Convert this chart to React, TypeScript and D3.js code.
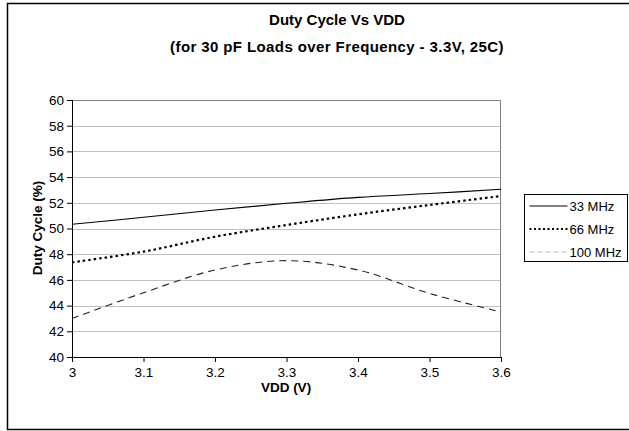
import React, { useRef, useEffect } from "react";
import * as d3 from "d3";

// VDD values (V)
const vdd = [3.0, 3.1, 3.2, 3.3, 3.4, 3.5, 3.6];

// Duty cycle (%) per frequency
const duty33 = [50.33, 50.87, 51.44, 51.96, 52.42, 52.72, 53.05];
const duty66 = [47.37, 48.2, 49.36, 50.27, 51.1, 51.83, 52.53];
const duty100 = [43.0, 45.0, 46.77, 47.5, 46.77, 44.95, 43.5];

const seriesNames = ["33 MHz", "66 MHz", "100 MHz"];
const xTicks = [3, 3.1, 3.2, 3.3, 3.4, 3.5, 3.6];
const yTicks = [40, 42, 44, 46, 48, 50, 52, 54, 56, 58, 60];

const FONT = "'Liberation Sans', Arial, sans-serif";

const App: React.FC = () => {
  const svgRef = useRef<SVGSVGElement>(null);

  useEffect(() => {
    document.body.style.margin = "0";
    if (!svgRef.current) return;
    const svg = d3.select(svgRef.current);
    svg.selectAll("*").remove();

    const width = 629;
    const height = 431;
    const margin = { top: 100, right: 128, bottom: 74, left: 72 };
    const innerWidth = width - margin.left - margin.right;
    const innerHeight = height - margin.top - margin.bottom;

    svg.attr("width", width).attr("height", height).style("display", "block");

    // Outer frame (right edge lies outside the picture)
    svg
      .append("rect")
      .attr("x", 7.5)
      .attr("y", 3.5)
      .attr("width", 660)
      .attr("height", 426)
      .attr("fill", "#fff")
      .attr("stroke", "#000")
      .attr("stroke-width", 1.5);

    // Titles
    const titleX = 337;
    svg
      .append("text")
      .attr("x", titleX)
      .attr("y", 25)
      .attr("text-anchor", "middle")
      .style("font-family", FONT)
      .style("font-weight", "bold")
      .style("font-size", "15px")
      .text("Duty Cycle Vs VDD");
    svg
      .append("text")
      .attr("x", titleX)
      .attr("y", 52)
      .attr("text-anchor", "middle")
      .style("font-family", FONT)
      .style("font-weight", "bold")
      .style("font-size", "15px")
      .style("letter-spacing", "0.4px")
      .text("(for 30 pF Loads over Frequency - 3.3V, 25C)");

    const g = svg
      .append("g")
      .attr("transform", `translate(${margin.left},${margin.top})`);

    const x = d3.scaleLinear().domain([3, 3.6]).range([0, innerWidth]);
    const y = d3.scaleLinear().domain([40, 60]).range([innerHeight, 0]);

    // Gridlines
    g.append("g")
      .selectAll("line")
      .data(yTicks.filter((t) => t > 40 && t < 60))
      .enter()
      .append("line")
      .attr("x1", 0)
      .attr("x2", innerWidth)
      .attr("y1", (d) => Math.round(y(d)) + 0.5)
      .attr("y2", (d) => Math.round(y(d)) + 0.5)
      .attr("stroke", "#c0c0c0")
      .attr("stroke-width", 1);

    // Plot area border (top and right, grey)
    g.append("path")
      .attr("d", `M0,0.5H${innerWidth - 0.5}V${innerHeight}`)
      .attr("fill", "none")
      .attr("stroke", "#808080")
      .attr("stroke-width", 1);

    // Axes
    const yAxis = d3
      .axisLeft(y)
      .tickValues(yTicks)
      .tickSize(5)
      .tickPadding(3)
      .tickFormat((d) => `${d}`);
    const yG = g.append("g").call(yAxis);
    yG.selectAll("text")
      .style("font-family", FONT)
      .style("font-size", "13.5px")
      .attr("fill", "#000");
    yG.selectAll("line,path").attr("stroke", "#000");

    const xAxis = d3
      .axisBottom(x)
      .tickValues(xTicks)
      .tickSize(5)
      .tickPadding(5)
      .tickFormat((d) => `${d}`);
    const xG = g
      .append("g")
      .attr("transform", `translate(0,${innerHeight})`)
      .call(xAxis);
    xG.selectAll("text")
      .style("font-family", FONT)
      .style("font-size", "13.5px")
      .attr("fill", "#000");
    xG.selectAll("line,path").attr("stroke", "#000");

    // Axis titles
    svg
      .append("text")
      .attr("x", 286)
      .attr("y", 392)
      .attr("text-anchor", "middle")
      .style("font-family", FONT)
      .style("font-weight", "bold")
      .style("font-size", "13.5px")
      .text("VDD (V)");
    svg
      .append("text")
      .attr("transform", `translate(42,228) rotate(-90)`)
      .attr("text-anchor", "middle")
      .style("font-family", FONT)
      .style("font-weight", "bold")
      .style("font-size", "13.5px")
      .text("Duty Cycle (%)");

    // Series
    const styles = [
      { stroke: "#000", width: 1.1, dash: null as string | null },
      { stroke: "#000", width: 2.2, dash: "2.5 3" },
      { stroke: "#222", width: 1.1, dash: "7 5" },
    ];
    const legendStyles = [
      { stroke: "#000", width: 1, dash: null as string | null },
      { stroke: "#000", width: 1.8, dash: "2 2.5" },
      { stroke: "#bbb", width: 1, dash: "5 3" },
    ];
    const allSeries = [duty33, duty66, duty100];

    const line = d3
      .line<number>()
      .x((_d, i) => x(vdd[i]))
      .y((d) => y(d))
      .curve(d3.curveCatmullRom.alpha(0.5));

    allSeries.forEach((s, i) => {
      const p = g
        .append("path")
        .datum(s)
        .attr("fill", "none")
        .attr("stroke", styles[i].stroke)
        .attr("stroke-width", styles[i].width)
        .attr("d", line);
      if (styles[i].dash) p.attr("stroke-dasharray", styles[i].dash);
    });

    // Legend
    const lg = svg.append("g").attr("transform", "translate(524.5,194.5)");
    lg.append("rect")
      .attr("width", 103)
      .attr("height", 67)
      .attr("fill", "#fff")
      .attr("stroke", "#000")
      .attr("stroke-width", 1);
    seriesNames.forEach((name, i) => {
      const cy = 11.5 + i * 23;
      const l = lg
        .append("line")
        .attr("x1", 5)
        .attr("x2", 43)
        .attr("y1", cy)
        .attr("y2", cy)
        .attr("stroke", legendStyles[i].stroke)
        .attr("stroke-width", legendStyles[i].width);
      if (legendStyles[i].dash) l.attr("stroke-dasharray", legendStyles[i].dash);
      lg.append("text")
        .attr("x", 45)
        .attr("y", cy + 5)
        .style("font-family", FONT)
        .style("font-size", "13px")
        .text(name);
    });
  }, []);

  return <svg ref={svgRef}></svg>;
};

export default App;
